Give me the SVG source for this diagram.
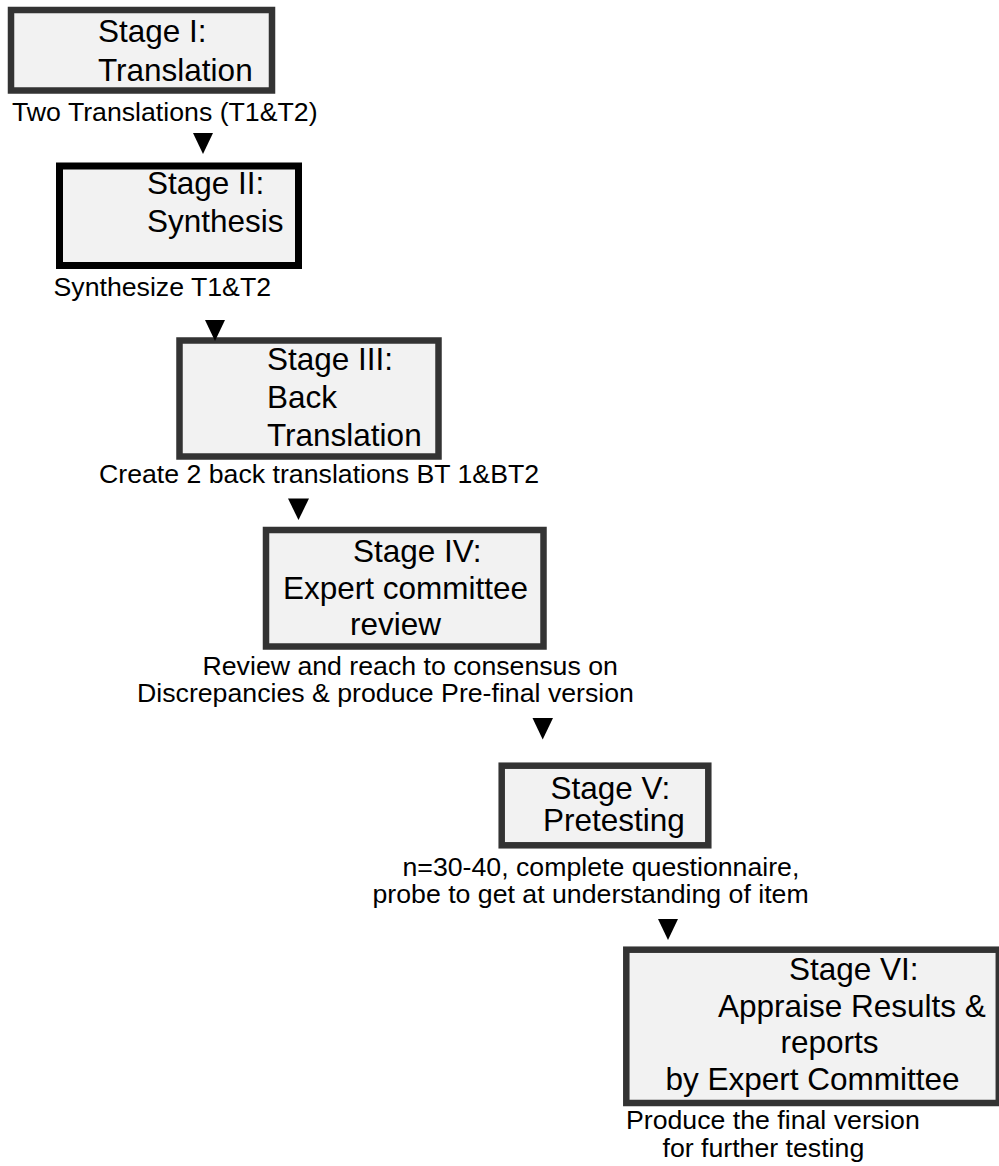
<svg xmlns="http://www.w3.org/2000/svg" width="999" height="1166" viewBox="0 0 999 1166">
<style>
.box{fill:#f2f2f2;stroke:#333;stroke-width:6.5}
.st{font-family:"Liberation Sans",Arial,sans-serif;font-size:31.5px;fill:#000}
.cap{font-family:"Liberation Sans",Arial,sans-serif;font-size:26.7px;fill:#000}
.arr{fill:#000}
</style>
<rect width="999" height="1166" fill="#fff"/>
<g id="stage1">
<rect class="box" x="11" y="10" width="261" height="80.5"/>
<text class="st" x="98" y="42">Stage I:</text>
<text class="st" x="98" y="81">Translation</text>
</g>
<g id="stage2">
<rect class="box" x="59.5" y="166" width="239" height="99.5" style="stroke:#000;stroke-width:7"/>
<text class="st" x="147" y="193.5">Stage II:</text>
<text class="st" x="147" y="232">Synthesis</text>
</g>
<g id="stage3">
<rect class="box" x="179.5" y="340.5" width="259" height="116"/>
<text class="st" x="267" y="370">Stage III:</text>
<text class="st" x="267" y="408">Back</text>
<text class="st" x="267" y="446">Translation</text>
</g>
<g id="stage4">
<rect class="box" x="266" y="530" width="277.5" height="116.5"/>
<text class="st" x="353" y="562">Stage IV:</text>
<text class="st" x="283" y="598.5">Expert committee</text>
<text class="st" x="350" y="635">review</text>
</g>
<g id="stage5">
<rect class="box" x="501.7" y="765.7" width="206.6" height="79.6"/>
<text class="st" x="550.5" y="798.5">Stage V:</text>
<text class="st" x="543" y="831">Pretesting</text>
</g>
<g id="stage6">
<rect class="box" x="626.3" y="949.7" width="372.5" height="153.3"/>
<text class="st" x="789" y="979.5">Stage VI:</text>
<text class="st" x="718" y="1016.5">Appraise Results &amp;</text>
<text class="st" x="780.5" y="1053">reports</text>
<text class="st" x="665.5" y="1090">by Expert Committee</text>
</g>
<g id="labels">
<text class="cap" x="12" y="121">Two Translations (T1&amp;T2)</text>
<text class="cap" x="53.5" y="296">Synthesize T1&amp;T2</text>
<text class="cap" x="99" y="483.3">Create 2 back translations BT 1&amp;BT2</text>
<text class="cap" x="202.5" y="674.5">Review and reach to consensus on</text>
<text class="cap" x="137" y="701.5">Discrepancies &amp; produce Pre-final version</text>
<text class="cap" x="402.5" y="875.5">n=30-40, complete questionnaire,</text>
<text class="cap" x="372.5" y="902.5">probe to get at understanding of item</text>
<text class="cap" x="626" y="1129.3">Produce the final version</text>
<text class="cap" x="662.5" y="1156.5">for further testing</text>
</g>
<g id="connectors">
<polygon class="arr" points="193,133 213,133 203,154"/>
<polygon class="arr" points="205,320 225,320 215,341"/>
<polygon class="arr" points="288,498.5 309,498.5 298.5,520"/>
<polygon class="arr" points="532.5,718 553,718 542.7,739.5"/>
<polygon class="arr" points="658,919 678,919 668,940"/>
</g>
</svg>
